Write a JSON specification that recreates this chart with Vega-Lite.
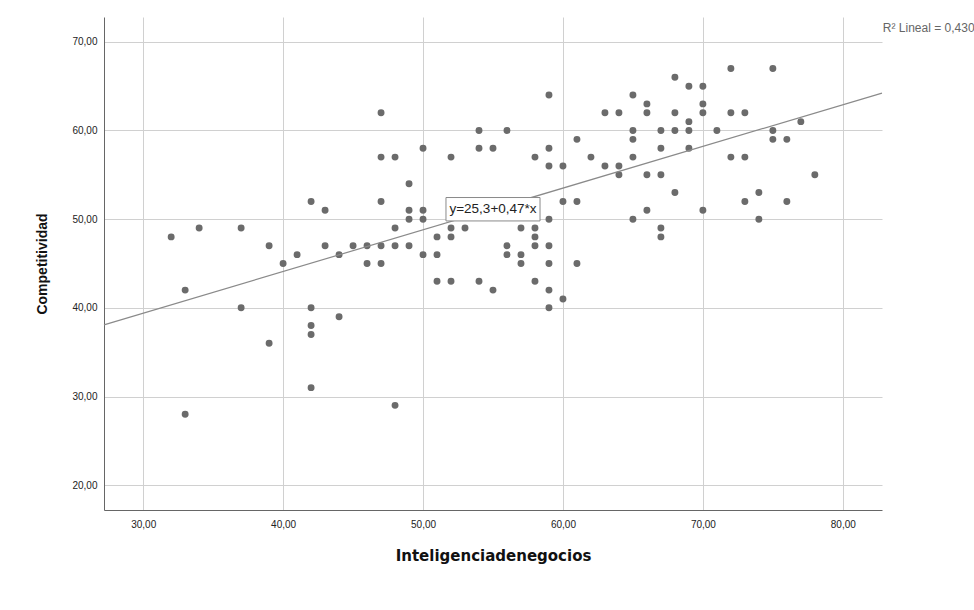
{
  "$schema": "https://vega.github.io/schema/vega-lite/v6.json",
  "autosize": {"type": "none"},
  "padding": {"left": 104, "top": 17, "right": 92, "bottom": 100},
  "width": 778,
  "height": 493,
  "background": "#ffffff",
  "config": {"view": {"stroke": null}},
  "datasets": {
    "pts": [
      {"x":32,"y":48},{"x":33,"y":42},{"x":33,"y":28},{"x":34,"y":49},{"x":37,"y":49},{"x":37,"y":40},
      {"x":39,"y":47},{"x":39,"y":36},{"x":40,"y":45},{"x":41,"y":46},{"x":42,"y":52},{"x":42,"y":40},
      {"x":42,"y":38},{"x":42,"y":37},{"x":42,"y":31},{"x":43,"y":51},{"x":43,"y":47},{"x":44,"y":46},
      {"x":44,"y":39},{"x":45,"y":47},{"x":46,"y":47},{"x":46,"y":45},{"x":47,"y":62},{"x":47,"y":57},
      {"x":47,"y":52},{"x":47,"y":47},{"x":47,"y":45},{"x":48,"y":57},{"x":48,"y":49},{"x":48,"y":47},
      {"x":48,"y":29},{"x":49,"y":54},{"x":49,"y":51},{"x":49,"y":50},{"x":49,"y":47},{"x":50,"y":58},
      {"x":50,"y":51},{"x":50,"y":50},{"x":50,"y":46},{"x":51,"y":48},{"x":51,"y":46},{"x":51,"y":43},
      {"x":52,"y":57},{"x":52,"y":49},{"x":52,"y":48},{"x":52,"y":43},{"x":53,"y":49},{"x":54,"y":60},
      {"x":54,"y":58},{"x":54,"y":43},{"x":55,"y":58},{"x":55,"y":42},{"x":56,"y":60},{"x":56,"y":47},
      {"x":56,"y":46},{"x":57,"y":49},{"x":57,"y":46},{"x":57,"y":45},{"x":58,"y":57},{"x":58,"y":49},
      {"x":58,"y":48},{"x":58,"y":47},{"x":58,"y":43},{"x":59,"y":64},{"x":59,"y":58},{"x":59,"y":56},
      {"x":59,"y":50},{"x":59,"y":47},{"x":59,"y":45},{"x":59,"y":42},{"x":59,"y":40},{"x":60,"y":56},
      {"x":60,"y":52},{"x":60,"y":41},{"x":61,"y":59},{"x":61,"y":52},{"x":61,"y":45},{"x":62,"y":57},
      {"x":63,"y":62},{"x":63,"y":56},{"x":64,"y":62},{"x":64,"y":56},{"x":64,"y":55},{"x":65,"y":64},
      {"x":65,"y":60},{"x":65,"y":59},{"x":65,"y":57},{"x":65,"y":50},{"x":66,"y":63},{"x":66,"y":62},
      {"x":66,"y":55},{"x":66,"y":51},{"x":67,"y":60},{"x":67,"y":58},{"x":67,"y":55},{"x":67,"y":49},
      {"x":67,"y":48},{"x":68,"y":66},{"x":68,"y":62},{"x":68,"y":60},{"x":68,"y":53},{"x":69,"y":65},
      {"x":69,"y":61},{"x":69,"y":60},{"x":69,"y":58},{"x":70,"y":65},{"x":70,"y":63},{"x":70,"y":62},
      {"x":70,"y":51},{"x":71,"y":60},{"x":72,"y":67},{"x":72,"y":62},{"x":72,"y":57},{"x":73,"y":62},
      {"x":73,"y":57},{"x":73,"y":52},{"x":74,"y":53},{"x":74,"y":50},{"x":75,"y":67},{"x":75,"y":60},
      {"x":75,"y":59},{"x":76,"y":59},{"x":76,"y":52},{"x":77,"y":61},{"x":78,"y":55}
    ],
    "fit": [{"x":27.2,"y":38.08},{"x":82.8,"y":64.22}],
    "box": [{"x":51.64,"x2":58.36,"y":49.8,"y2":52.44,"cx":55.0,"cy":51.12,"label":"y=25,3+0,47*x"}],
    "r2": [{"x":82.86,"y":71.52,"label":"R² Lineal = 0,430"}]
  },
  "layer": [
    {
      "data": {"name": "pts"},
      "mark": {"type": "circle", "size": 48, "color": "#6b6b6b", "opacity": 1},
      "encoding": {
        "x": {
          "field": "x", "type": "quantitative",
          "scale": {"domain": [27.2, 82.8], "nice": false, "zero": false},
          "axis": {
            "values": [30,40,50,60,70,80],
            "labelExpr": "replace(format(datum.value, '.2f'), '.', ',')",
            "grid": true, "gridColor": "#d0d0d0", "gridWidth": 1,
            "domainColor": "#666666", "domainWidth": 1,
            "ticks": false,
            "labelFont": "Liberation Sans", "labelFontSize": 10, "labelColor": "#222222", "labelPadding": 9,
            "title": "Inteligenciadenegocios",
            "titleFont": "DejaVu Sans", "titleFontSize": 15, "titleFontWeight": "bold", "titleColor": "#111111",
            "titlePadding": 19
          }
        },
        "y": {
          "field": "y", "type": "quantitative",
          "scale": {"domain": [17.2, 72.8], "nice": false, "zero": false},
          "axis": {
            "values": [20,30,40,50,60,70],
            "labelExpr": "replace(format(datum.value, '.2f'), '.', ',')",
            "grid": true, "gridColor": "#d0d0d0", "gridWidth": 1,
            "domainColor": "#666666", "domainWidth": 1,
            "ticks": false,
            "labelFont": "Liberation Sans", "labelFontSize": 10, "labelColor": "#222222", "labelPadding": 7,
            "title": "Competitividad",
            "titleFont": "Liberation Sans", "titleFontSize": 14, "titleFontWeight": "bold", "titleColor": "#111111",
            "titlePadding": 22
          }
        }
      }
    },
    {
      "data": {"name": "fit"},
      "mark": {"type": "line", "color": "#8a8a8a", "strokeWidth": 1.2},
      "encoding": {
        "x": {"field": "x", "type": "quantitative"},
        "y": {"field": "y", "type": "quantitative"}
      }
    },
    {
      "data": {"name": "box"},
      "mark": {"type": "rect", "fill": "#ffffff", "stroke": "#8a8a8a", "strokeWidth": 1},
      "encoding": {
        "x": {"field": "x", "type": "quantitative"},
        "x2": {"field": "x2"},
        "y": {"field": "y", "type": "quantitative"},
        "y2": {"field": "y2"}
      }
    },
    {
      "data": {"name": "box"},
      "mark": {"type": "text", "font": "Liberation Sans", "fontSize": 13.5, "color": "#222222", "align": "center", "baseline": "middle"},
      "encoding": {
        "x": {"field": "cx", "type": "quantitative"},
        "y": {"field": "cy", "type": "quantitative"},
        "text": {"field": "label"}
      }
    },
    {
      "data": {"name": "r2"},
      "mark": {"type": "text", "font": "Liberation Sans", "fontSize": 12, "color": "#666666", "align": "left", "baseline": "middle", "clip": false},
      "encoding": {
        "x": {"field": "x", "type": "quantitative"},
        "y": {"field": "y", "type": "quantitative"},
        "text": {"field": "label"}
      }
    }
  ]
}
